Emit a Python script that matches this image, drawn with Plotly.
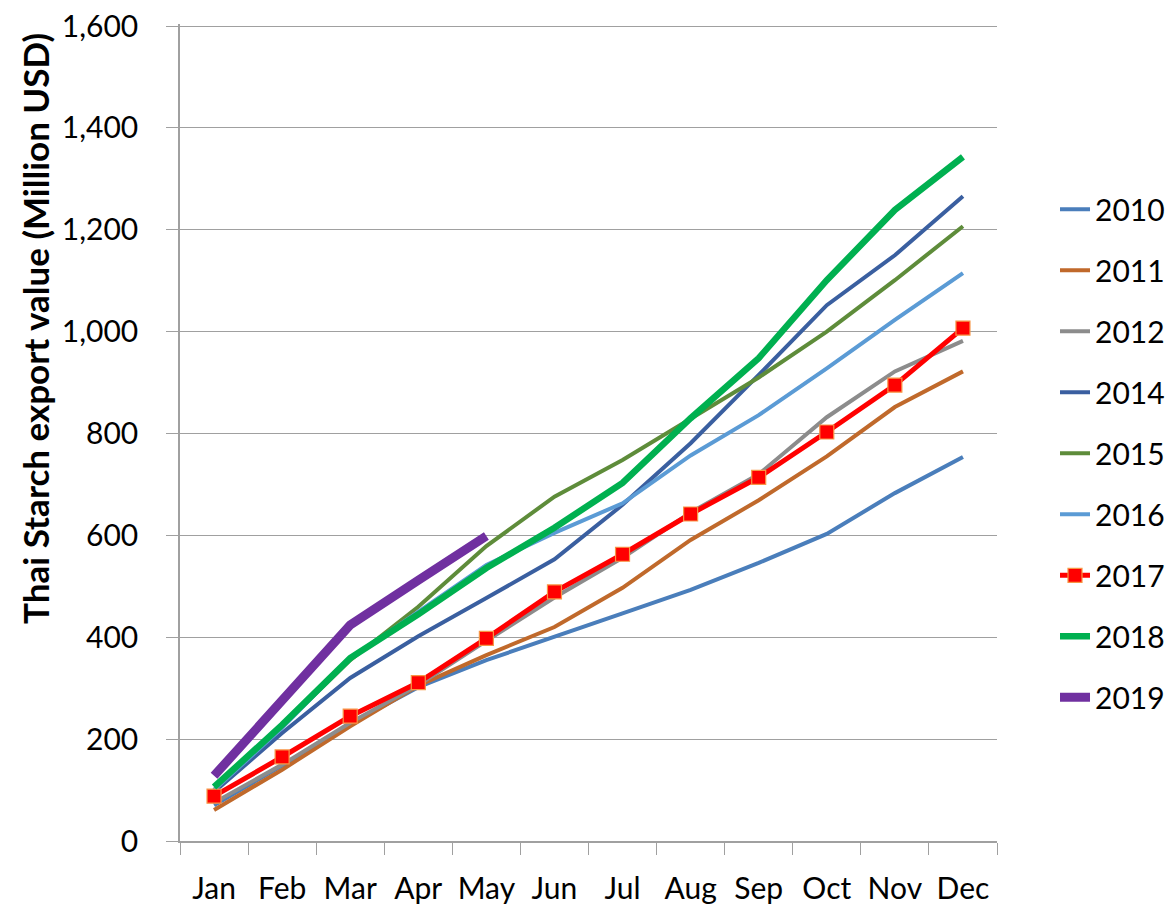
import plotly.graph_objects as go

months = ["Jan", "Feb", "Mar", "Apr", "May", "Jun", "Jul", "Aug", "Sep", "Oct", "Nov", "Dec"]
yticks = [0, 200, 400, 600, 800, 1000, 1200, 1400, 1600]

v2010 = [70, 148, 230, 302, 355, 402, 447, 493, 546, 603, 683, 754]
v2011 = [61, 140, 225, 305, 365, 420, 497, 591, 669, 755, 852, 922]
v2012 = [75, 150, 232, 306, 393, 478, 556, 645, 720, 832, 922, 982]
v2014 = [96, 212, 320, 402, 477, 553, 660, 781, 915, 1052, 1150, 1266]
v2015 = [100, 225, 355, 460, 579, 676, 748, 830, 910, 1000, 1101, 1207]
v2016 = [100, 222, 358, 450, 542, 605, 663, 757, 836, 928, 1023, 1115]
v2017 = [88, 165, 245, 311, 398, 489, 563, 642, 714, 803, 895, 1007]
v2018 = [106, 228, 359, 445, 536, 615, 703, 830, 948, 1101, 1239, 1343]
v2019 = [128, 278, 424, 512, 599]

series = [
    ("2010", v2010, "#4A7EBB", 4),
    ("2011", v2011, "#C0692B", 4),
    ("2012", v2012, "#8C8C8C", 4),
    ("2014", v2014, "#3A5FA0", 4),
    ("2015", v2015, "#5E8C3A", 4),
    ("2016", v2016, "#5B9BD5", 4),
    ("2017", v2017, "#FF0000", 5),
    ("2018", v2018, "#00B050", 6.5),
    ("2019", v2019, "#7030A0", 9),
]

fig = go.Figure()
for name, vals, color, w in series:
    if name == "2017":
        kw = dict(mode="lines+markers",
                  marker=dict(symbol="square", size=14, color="#FF0000",
                              line=dict(color="#F79646", width=1.2)))
    else:
        kw = dict(mode="lines")
    fig.add_trace(go.Scatter(
        x=months[:len(vals)], y=vals, name=name, legendgroup=name,
        line=dict(color=color, width=w), **kw))

fig.update_layout(
    width=1175, height=906,
    paper_bgcolor="white", plot_bgcolor="white",
    margin=dict(l=172, r=186, t=16, b=73),
    font=dict(family="Lato, 'Open Sans', sans-serif", size=30, color="black"),
    showlegend=True,
    legend=dict(x=1.071, y=0.805, xanchor="left", yanchor="top",
                font=dict(size=30), tracegroupgap=19,
                bgcolor="rgba(0,0,0,0)"),
    annotations=[dict(
        text="<b>Thai Starch export value (Million USD)</b>",
        textangle=-90, xref="paper", yref="paper",
        x=-0.1775, y=0.628, xanchor="center", yanchor="middle",
        showarrow=False, font=dict(size=35, color="black"),
    )],
)
fig.update_xaxes(
    type="category", categoryorder="array", categoryarray=months,
    tickson="boundaries", ticks="outside", ticklen=12, tickcolor="#A0A0A0",
    showline=True, linecolor="#A0A0A0", linewidth=1.5,
    showgrid=False, tickfont=dict(size=30), range=[-0.5, 11.5],
    automargin=False, ticklabelstandoff=20,
)
fig.update_yaxes(
    range=[0, 1604], tickmode="array", tickvals=yticks,
    ticktext=[f"{v:,}" for v in yticks],
    ticks="outside", ticklen=12, tickcolor="#A0A0A0",
    showline=True, linecolor="#A0A0A0", linewidth=1.5,
    showgrid=True, gridcolor="#A0A0A0", gridwidth=1.2,
    zeroline=False, tickfont=dict(size=30), automargin=False,
    ticklabelstandoff=22, ticklabeloverflow="allow",
)

fig.write_html("out.html")
